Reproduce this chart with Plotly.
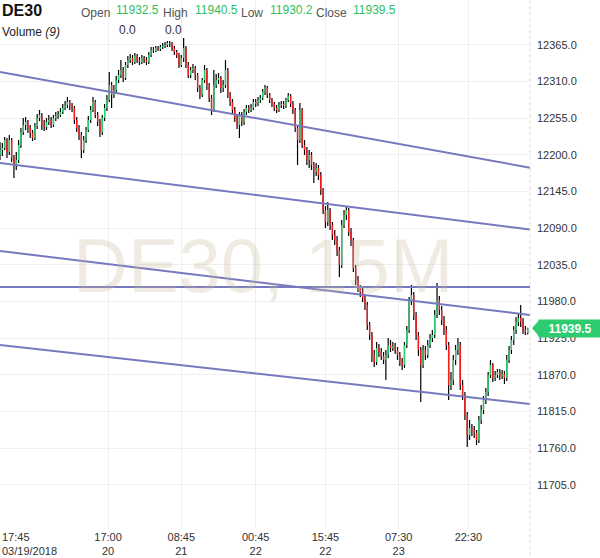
import plotly.graph_objects as go
import pandas as pd

# ---------------- data (30-minute bars) ----------------
start_time = "2018-03-19 17:45"

opens = [12199.5, 12207, 12210, 12222, 12204, 12222, 12195, 12184.5, 12192, 12214.5,
         12234, 12244.5, 12249, 12240, 12232.5, 12225, 12243, 12255, 12259.5, 12244.5,
         12241.5, 12249, 12252, 12244.5, 12255, 12258, 12259.5, 12264, 12270, 12274.5,
         12279, 12273, 12270, 12252, 12240, 12229.5, 12207, 12222, 12237, 12252,
         12267, 12279, 12259.5, 12249, 12234, 12255, 12270, 12282, 12304.5, 12289.5,
         12297, 12312, 12319.5, 12327, 12315, 12334.5, 12342, 12345, 12339, 12348,
         12342, 12339, 12345, 12342, 12339, 12349.5, 12357, 12355.5, 12360, 12358.5,
         12361.5, 12363, 12364.5, 12367.5, 12366, 12360, 12354, 12349.5, 12334.5, 12345,
         12360, 12334.5, 12319.5, 12327, 12330, 12319.5, 12300, 12289.5, 12312, 12327,
         12304.5, 12285, 12267, 12304.5, 12312, 12315, 12300, 12304.5, 12327, 12289.5,
         12279, 12267, 12255, 12244.5, 12259.5, 12249, 12264, 12270, 12267, 12270,
         12279, 12276, 12282, 12285, 12294, 12300, 12289.5, 12282, 12276, 12270,
         12267, 12274.5, 12276, 12273, 12282, 12288, 12276, 12267, 12240, 12222,
         12267, 12214.5, 12207, 12192, 12199.5, 12184.5, 12174, 12180, 12169.5, 12147,
         12117, 12099, 12117, 12094.5, 12079.5, 12072, 12057, 12034.5, 12094.5, 12109.5,
         12117, 12084, 12072, 12030, 12012, 12000, 11994, 11985, 11974.5, 11944.5,
         11929.5, 11899.5, 11889, 11910, 11904, 11898, 11892, 11899.5, 11914.5, 11910,
         11913, 11907, 11899.5, 11889, 11884.5, 11914.5, 11937, 11982, 11989.5, 11959.5,
         11929.5, 11907, 11884.5, 11907, 11899.5, 11914.5, 11925, 11929.5, 11959.5, 11982,
         11967, 11952, 11937, 11914.5, 11854.5, 11862, 11892, 11907, 11914.5, 11854.5,
         11839.5, 11809.5, 11779.5, 11790, 11787, 11782.5, 11772, 11802, 11817, 11832,
         11844, 11869.5, 11884.5, 11865, 11869.5, 11874, 11868, 11871, 11865, 11892,
         11907, 11922, 11937, 11949, 11955, 11949, 11937, 11932.5]

highs = [12219, 12217.5, 12226.5, 12225, 12229.5, 12225, 12199.5, 12204, 12222, 12240,
         12255, 12256.5, 12252, 12244.5, 12237, 12247.5, 12261, 12267, 12262.5, 12252,
         12255, 12259.5, 12256.5, 12259.5, 12264, 12265.5, 12270, 12276, 12280.5, 12286.5,
         12282, 12277.5, 12273, 12256.5, 12244.5, 12234, 12228, 12241.5, 12258, 12273,
         12286.5, 12282, 12264, 12253.5, 12259.5, 12276, 12289.5, 12324, 12309, 12304.5,
         12318, 12327, 12342, 12331.5, 12339, 12348, 12351, 12349.5, 12352.5, 12351,
         12346.5, 12349.5, 12348, 12346.5, 12354, 12361.5, 12361.5, 12363, 12363, 12364.5,
         12367.5, 12369, 12370.5, 12370.5, 12369, 12363, 12357, 12352.5, 12349.5, 12375,
         12363, 12339, 12331.5, 12336, 12333, 12322.5, 12304.5, 12315, 12334.5, 12330,
         12307.5, 12289.5, 12327, 12321, 12322.5, 12318, 12312, 12342, 12330, 12294,
         12283.5, 12271.5, 12259.5, 12264, 12264, 12268.5, 12274.5, 12274.5, 12276, 12283.5,
         12283.5, 12286.5, 12289.5, 12298.5, 12304.5, 12303, 12292.5, 12285, 12279, 12274.5,
         12279, 12280.5, 12280.5, 12285, 12292.5, 12291, 12280.5, 12270, 12244.5, 12277.5,
         12270, 12222, 12211.5, 12207, 12204, 12189, 12187.5, 12184.5, 12174, 12150,
         12123, 12129, 12120, 12099, 12087, 12078, 12061.5, 12102, 12117, 12121.5,
         12120, 12090, 12075, 12034.5, 12018, 12004.5, 12000, 11989.5, 11979, 11949,
         11934, 11907, 11919, 11916, 11910, 11904, 11907, 11925, 11922, 11919,
         11917.5, 11911.5, 11904, 11895, 11919, 11943, 11986.5, 12004.5, 11994, 11964,
         11934, 11911.5, 11914.5, 11913, 11922, 11931, 11937, 11967, 12007.5, 11988,
         11973, 11958, 11943, 11919, 11874, 11899.5, 11914.5, 11925, 11919, 11862,
         11844, 11814, 11802, 11796, 11793, 11787, 11808, 11824.5, 11838, 11850,
         11874, 11892, 11887.5, 11875.5, 11878.5, 11878.5, 11877, 11875.5, 11899.5, 11913,
         11928, 11943, 11956.5, 11962.5, 11974.5, 11955, 11943, 11940.5]

lows = [12192, 12198, 12207, 12195, 12199.5, 12189, 12165, 12177, 12187.5, 12210,
        12229.5, 12237, 12232.5, 12225, 12220.5, 12222, 12238.5, 12250.5, 12237, 12235.5,
        12237, 12244.5, 12240, 12241.5, 12250.5, 12253.5, 12256.5, 12261, 12267, 12270,
        12267, 12264, 12246, 12234, 12222, 12195, 12202.5, 12217.5, 12234, 12247.5,
        12264, 12255, 12243, 12226.5, 12229.5, 12250.5, 12265.5, 12279, 12270, 12285,
        12292.5, 12307.5, 12315, 12309, 12312, 12330, 12337.5, 12334.5, 12336, 12337.5,
        12334.5, 12336, 12337.5, 12334.5, 12336, 12346.5, 12352.5, 12354, 12355.5, 12355.5,
        12358.5, 12360, 12361.5, 12361.5, 12355.5, 12349.5, 12345, 12330, 12331.5, 12339,
        12330, 12315, 12315, 12322.5, 12312, 12294, 12283.5, 12286.5, 12307.5, 12297,
        12279, 12259.5, 12264, 12300, 12306, 12292.5, 12294, 12300, 12285, 12273,
        12261, 12249, 12238.5, 12225, 12243, 12244.5, 12259.5, 12262.5, 12264, 12267,
        12271.5, 12273, 12277.5, 12282, 12289.5, 12285, 12277.5, 12271.5, 12265.5, 12262.5,
        12264, 12270, 12268.5, 12270, 12279, 12271.5, 12261, 12234, 12184.5, 12217.5,
        12210, 12199.5, 12184.5, 12180, 12177, 12157.5, 12168, 12162, 12139.5, 12111,
        12090, 12093, 12087, 12072, 12064.5, 12048, 12016.5, 12030, 12090, 12102,
        12078, 12063, 12024, 12004.5, 11994, 11986.5, 11979, 11967, 11937, 11922,
        11889, 11881.5, 11884.5, 11896.5, 11892, 11886, 11862, 11895, 11904, 11905.5,
        11901, 11892, 11883, 11877, 11880, 11910, 11932.5, 11974.5, 11952, 11922,
        11898, 11829, 11880, 11892, 11895, 11910, 11919, 11925, 11955, 11959.5,
        11944.5, 11929.5, 11907, 11832, 11847, 11854.5, 11884.5, 11899.5, 11847, 11832,
        11802, 11761.5, 11772, 11778, 11775, 11764.5, 11767.5, 11796, 11811, 11826,
        11838, 11865, 11859, 11860.5, 11865, 11862, 11863.5, 11856, 11860.5, 11887.5,
        11901, 11914.5, 11931, 11943, 11941.5, 11931, 11929.5, 11930.2]

closes = [12207, 12210, 12222, 12204, 12222, 12195, 12184.5, 12192, 12214.5, 12234,
          12244.5, 12249, 12240, 12232.5, 12225, 12243, 12255, 12259.5, 12244.5, 12241.5,
          12249, 12252, 12244.5, 12255, 12258, 12259.5, 12264, 12270, 12274.5, 12279,
          12273, 12270, 12252, 12240, 12229.5, 12207, 12222, 12237, 12252, 12267,
          12279, 12259.5, 12249, 12234, 12255, 12270, 12282, 12304.5, 12289.5, 12297,
          12312, 12319.5, 12327, 12315, 12334.5, 12342, 12345, 12339, 12348, 12342,
          12339, 12345, 12342, 12339, 12349.5, 12357, 12355.5, 12360, 12358.5, 12361.5,
          12363, 12364.5, 12367.5, 12366, 12360, 12354, 12349.5, 12334.5, 12345, 12360,
          12334.5, 12319.5, 12327, 12330, 12319.5, 12300, 12289.5, 12312, 12327, 12304.5,
          12285, 12267, 12304.5, 12312, 12315, 12300, 12304.5, 12327, 12289.5, 12279,
          12267, 12255, 12244.5, 12259.5, 12249, 12264, 12270, 12267, 12270, 12279,
          12276, 12282, 12285, 12294, 12300, 12289.5, 12282, 12276, 12270, 12267,
          12274.5, 12276, 12273, 12282, 12288, 12276, 12267, 12240, 12222, 12267,
          12214.5, 12207, 12192, 12199.5, 12184.5, 12174, 12180, 12169.5, 12147, 12117,
          12099, 12117, 12094.5, 12079.5, 12072, 12057, 12034.5, 12094.5, 12109.5, 12117,
          12084, 12072, 12030, 12012, 12000, 11994, 11985, 11974.5, 11944.5, 11929.5,
          11899.5, 11889, 11910, 11904, 11898, 11892, 11899.5, 11914.5, 11910, 11913,
          11907, 11899.5, 11889, 11884.5, 11914.5, 11937, 11982, 11989.5, 11959.5, 11929.5,
          11907, 11884.5, 11907, 11899.5, 11914.5, 11925, 11929.5, 11959.5, 11982, 11967,
          11952, 11937, 11914.5, 11854.5, 11862, 11892, 11907, 11914.5, 11854.5, 11839.5,
          11809.5, 11779.5, 11790, 11787, 11782.5, 11772, 11802, 11817, 11832, 11844,
          11869.5, 11884.5, 11865, 11869.5, 11874, 11868, 11871, 11865, 11892, 11907,
          11922, 11937, 11949, 11955, 11949, 11937, 11934, 11939.5]

# trend lines drawn on the chart: price at left edge / price at right edge
trend_left = [12324, 12187.5, 12055.5, 12001.5, 11914.5]
trend_right = [12180.5, 12087.8, 11959.5, 12001.5, 11826]

# axis ticks
y_ticks = [11705, 11760, 11815, 11870, 11925, 11980, 12035, 12090, 12145, 12200, 12255, 12310, 12365]
x_tick_times = ["2018-03-20 17:00", "2018-03-21 08:45", "2018-03-22 00:45",
                "2018-03-22 15:45", "2018-03-23 07:30", "2018-03-23 22:30"]
x_tick_text = ["17:00<br>20", "08:45<br>21", "00:45<br>22", "15:45<br>22", "07:30<br>23", "22:30"]
first_label = "17:45<br>03/19/2018"
x_range = ["2018-03-19 17:45", "2018-03-24 11:45"]
y_range = [11638.5, 12432]

symbol = "DE30"
watermark = "DE30, 15M"

# ---------------- build figure ----------------
times = pd.date_range(start_time, periods=len(closes), freq="30min")

GREEN = "#2ecc71"
RED = "#ff1a1a"
TREND = "#7779bf"
FONT = "Liberation Sans, Arial, sans-serif"

wx, wy = [], []
gx, gy, rx, ry = [], [], [], []
for t, o, h, l, c in zip(times, opens, highs, lows, closes):
    wx += [t, t, None]
    wy += [l, h, None]
    if c >= o:
        gx += [t, t, None]
        gy += [o, c, None]
    else:
        rx += [t, t, None]
        ry += [o, c, None]

fig = go.Figure()
fig.add_trace(go.Scatter(x=wx, y=wy, mode="lines", line=dict(color="#000000", width=1.2),
                         hoverinfo="skip", showlegend=False))
fig.add_trace(go.Scatter(x=gx, y=gy, mode="lines", line=dict(color=GREEN, width=1.4),
                         hoverinfo="skip", showlegend=False))
fig.add_trace(go.Scatter(x=rx, y=ry, mode="lines", line=dict(color=RED, width=1.4),
                         hoverinfo="skip", showlegend=False))

for a, b in zip(trend_left, trend_right):
    fig.add_trace(go.Scatter(x=x_range, y=[a, b], mode="lines",
                             line=dict(color=TREND, width=2),
                             hoverinfo="skip", showlegend=False))

PLOT_H = 529.0


def py(px):
    return 1 - px / PLOT_H


annotations = []
# watermark
annotations.append(dict(text=watermark, xref="paper", yref="paper", x=0.496, y=py(265),
                        xanchor="center", yanchor="middle", showarrow=False,
                        font=dict(family=FONT, size=76, color="rgba(200,182,150,0.28)")))


def hdr(text, xpx, ypx, color="#555555", size=12, bold=False):
    annotations.append(dict(text=("<b>%s</b>" % text) if bold else text,
                            xref="paper", yref="paper", x=xpx / 530.0, y=py(ypx),
                            xanchor="left", yanchor="middle", showarrow=False,
                            font=dict(family=FONT, size=size, color=color)))


VAL_GREEN = "#2fbf5f"
hdr(symbol, 0, 11, color="#111111", size=16, bold=True)
hdr("Open", 79, 13)
hdr("%.1f" % opens[-1], 114, 10, color=VAL_GREEN)
hdr("High", 161, 13)
hdr("%.1f" % highs[-1], 193, 10, color=VAL_GREEN)
hdr("Low", 239, 13)
hdr("%.1f" % lows[-1], 268, 10, color=VAL_GREEN)
hdr("Close", 314, 13)
hdr("%.1f" % closes[-1], 351, 10, color=VAL_GREEN)
hdr("Volume <i>(9)</i>", 0, 32, color="#222222")
hdr("0.0", 117, 30, color="#333333")
hdr("0.0", 163, 30, color="#333333")

# first time label (left aligned at the left edge)
annotations.append(dict(text=first_label, xref="paper", yref="paper", x=0, y=0,
                        xanchor="left", yanchor="top", yshift=0, align="left",
                        showarrow=False, font=dict(family=FONT, size=11, color="#333333")))

# last price tag
annotations.append(dict(text="<b>%.1f</b>" % closes[-1], xref="paper", yref="y",
                        x=1, xshift=8, y=closes[-1], xanchor="left", yanchor="middle",
                        showarrow=False, bgcolor=GREEN, width=60, height=15, borderpad=1,
                        font=dict(family=FONT, size=12, color="#ffffff")))

shapes = [
    dict(type="line", xref="paper", yref="paper", x0=1, x1=1, y0=-0.05, y1=1,
         line=dict(color="#dcdcdc", width=1, dash="dot")),
    dict(type="path", xref="paper", yref="y", xsizemode="pixel", ysizemode="pixel",
         xanchor=1, yanchor=closes[-1], path="M 2,0 L 9,8 L 9,-8 Z",
         fillcolor=GREEN, line=dict(width=0)),
]

fig.update_layout(
    width=600, height=558,
    margin=dict(l=0, r=70, t=0, b=29),
    paper_bgcolor="#ffffff", plot_bgcolor="#ffffff",
    font=dict(family=FONT, size=11, color="#333333"),
    showlegend=False,
    annotations=annotations,
    shapes=shapes,
    xaxis=dict(type="date", range=x_range, tickvals=x_tick_times, ticktext=x_tick_text,
               showgrid=True, gridcolor="#efefef", gridwidth=1, zeroline=False,
               showline=False, ticks="", tickfont=dict(size=11, color="#333333"),
               fixedrange=True),
    yaxis=dict(side="right", range=y_range, tickvals=y_ticks,
               ticktext=["%.1f" % v for v in y_ticks],
               showgrid=True, gridcolor="#efefef", gridwidth=1, zeroline=False,
               showline=False, ticks="", ticklabelstandoff=6,
               tickfont=dict(size=11, color="#333333"), fixedrange=True),
)

fig.write_html("out.html", config={"displayModeBar": False},
               post_script="document.body.style.margin='0px';document.body.style.overflow='hidden';")
